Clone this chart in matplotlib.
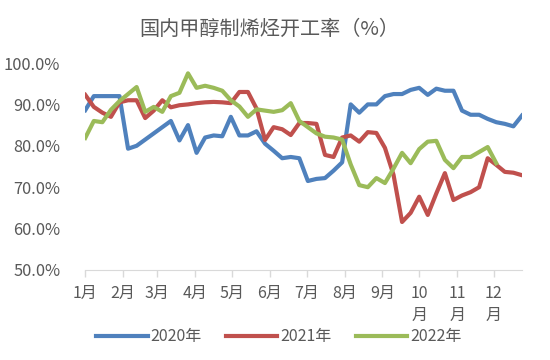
import numpy as np
import matplotlib
matplotlib.use("Agg")
import matplotlib.pyplot as plt

plt.rcParams['font.family'] = ['Noto Sans CJK SC', 'DejaVu Sans']

# weekly start rates (%)
rate_2020 = [88.6, 92.0, 92.0, 92.0, 92.0, 79.3, 80.0, 81.5, 83.0, 84.5,
             86.0, 81.3, 85.0, 78.3, 82.0, 82.5, 82.3, 87.0, 82.5, 82.5,
             83.5, 80.5, 78.8, 77.0, 77.3, 77.0, 71.5, 72.0, 72.2, 74.0,
             76.0, 90.0, 88.0, 90.0, 90.0, 92.0, 92.5, 92.5, 93.5, 94.0,
             92.3, 93.8, 93.3, 93.3, 88.5, 87.5, 87.5, 86.5, 85.7, 85.3,
             84.7, 87.3]
rate_2021 = [92.3, 89.4, 88.0, 87.0, 90.5, 91.0, 91.0, 86.7, 88.5, 91.0,
             89.3, 89.8, 90.0, 90.3, 90.5, 90.6, 90.5, 90.3, 93.0, 93.0,
             89.0, 81.4, 84.5, 84.0, 82.6, 85.5, 85.5, 85.3, 77.8, 77.3,
             82.0, 82.5, 81.0, 83.3, 83.1, 79.5, 73.0, 61.6, 63.8, 67.7,
             63.3, 68.5, 73.4, 66.9, 68.0, 68.8, 70.0, 77.0, 75.4, 73.7,
             73.5, 72.9]
rate_2022 = [81.9, 86.0, 85.7, 88.7, 90.8, 92.5, 94.2, 88.2, 89.4, 88.2,
             92.0, 92.8, 97.5, 94.0, 94.5, 94.0, 93.3, 91.0, 89.5, 87.0,
             88.8, 88.5, 88.2, 88.6, 90.3, 86.0, 84.5, 83.0, 82.2, 82.0,
             81.5, 75.5, 70.5, 70.0, 72.2, 71.0, 74.5, 78.3, 75.8, 79.2,
             81.0, 81.2, 76.6, 74.6, 77.3, 77.3, 78.5, 79.7, 75.8]

years = ['2020年', '2021年', '2022年']
colors = ['#4F81BD', '#C0504D', '#9BBB59']
month_days = [31, 28, 31, 30, 31, 30, 31, 31, 30, 31, 30, 31]
month_labels = ['1月', '2月', '3月', '4月', '5月', '6月', '7月', '8月', '9月',
                '10\n月', '11\n月', '12\n月']

fig = plt.figure(figsize=(5.5, 3.6), dpi=100)
ax = fig.add_axes([0.155, 0.25, 0.794, 0.575])

for data, lab, c in zip([rate_2020, rate_2021, rate_2022], years, colors):
    days = np.arange(len(data)) * 7
    ax.plot(days, data, color=c, lw=3, label=lab, solid_joinstyle='round')

month_start = np.concatenate([[0], np.cumsum(month_days)[:-1]])
ax.set_xticks(month_start)
ax.set_xticklabels(month_labels, va='top', linespacing=1.35)
ax.set_xlim(0, 7 * (len(rate_2020) - 1))
ax.set_ylim(50, 100)
ax.set_yticks(np.arange(50, 101, 10))
ax.set_yticklabels(['%.1f%%' % v for v in np.arange(50, 101, 10)])

for s in ['top', 'right', 'left']:
    ax.spines[s].set_visible(False)
ax.spines['bottom'].set_color('#d9d9d9')
ax.tick_params(axis='x', colors='#d9d9d9', length=5, width=1,
               labelcolor='#595959', labelsize=11.5, pad=6)
ax.tick_params(axis='y', length=0, labelcolor='#595959', labelsize=11.8, pad=18)

fig.text(0.49, 0.918, '国内甲醇制烯烃开工率（%）', ha='center', va='center',
         fontsize=14.5, color='#595959')

fig.legend(loc='center', bbox_to_anchor=(0.507, 0.065), ncol=3, frameon=False,
           fontsize=11.5, labelcolor='#595959', handlelength=3.2,
           handletextpad=0.2, columnspacing=1.5)

fig.savefig('out.png', dpi=100)
